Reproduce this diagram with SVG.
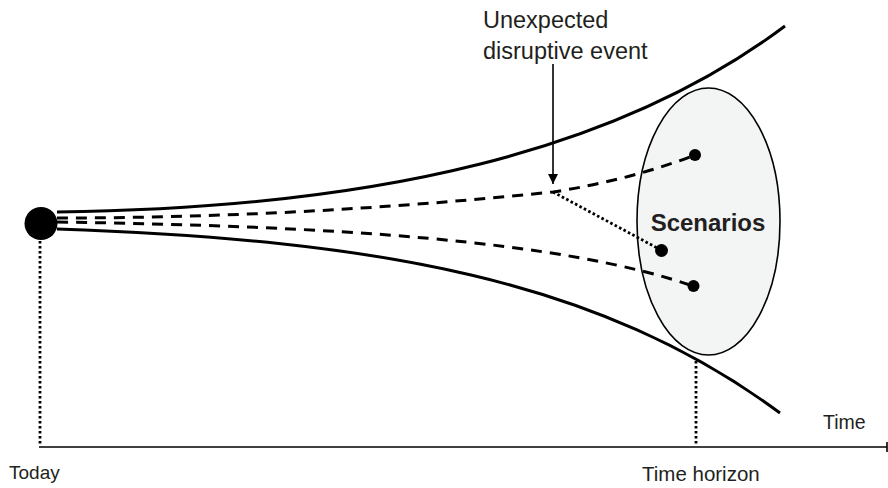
<svg xmlns="http://www.w3.org/2000/svg" width="888" height="488" viewBox="0 0 888 488">
<style>
.solid{fill:none;stroke:#000;stroke-width:3}
.dash{fill:none;stroke:#000;stroke-width:3;stroke-dasharray:11 8}
.dot{fill:none;stroke:#000;stroke-width:2.8;stroke-dasharray:2.6 2.4}
.axis{fill:none;stroke:#000;stroke-width:1.6}
.lbl{font-family:"Liberation Sans",Arial,sans-serif;fill:#231f20}
.pt{fill:#000}
</style>
<defs>
<marker id="arr" viewBox="0 0 10 10" refX="10" refY="5" markerWidth="10" markerHeight="10" markerUnits="userSpaceOnUse" orient="auto">
<path d="M0,0 L10,5 L0,10 Z" fill="#000"/>
</marker>
</defs>
<rect width="888" height="488" fill="#fff"/>
<g id="scenarios">
<ellipse cx="708.5" cy="221.5" rx="71.5" ry="133.5" fill="#f3f4f4" stroke="#000" stroke-width="1.6"/>
<text class="lbl" x="708" y="231" font-size="24" font-weight="bold" text-anchor="middle">Scenarios</text>
</g>
<g id="connectors">
<path class="solid" d="M57,212 C380,208 620,150 785,26"/>
<path class="solid" d="M57,229 C380,240 600,280 780,413"/>
<path class="dash" d="M57,218 Q300,218 553,192 Q630,180 695,155"/>
<path class="dash" d="M57,222 C330,226 560,240 693,286"/>
<path class="dot" d="M553,192 L661,250"/>
<path class="axis" d="M553,64 L553,184" marker-end="url(#arr)"/>
<path class="dot" d="M40,241 L40,445"/>
<path class="dot" d="M696,361 L696,445"/>
<path class="axis" d="M39,447 L887,447 M887,442 L887,452"/>
</g>
<g id="today">
<circle cx="41" cy="223.5" r="16.5" class="pt"/>
<text class="lbl" x="9" y="479" font-size="19">Today</text>
</g>
<g id="points">
<circle cx="695" cy="155" r="6" class="pt"/>
<circle cx="661.5" cy="250.5" r="6.5" class="pt"/>
<circle cx="693.5" cy="286" r="6" class="pt"/>
</g>
<g id="labels">
<text class="lbl" x="483" y="28" font-size="23.5">Unexpected</text>
<text class="lbl" x="483" y="59" font-size="23.5">disruptive event</text>
<text class="lbl" x="823" y="429" font-size="19.5">Time</text>
<text class="lbl" x="642" y="481" font-size="20.5">Time horizon</text>
</g>
</svg>
